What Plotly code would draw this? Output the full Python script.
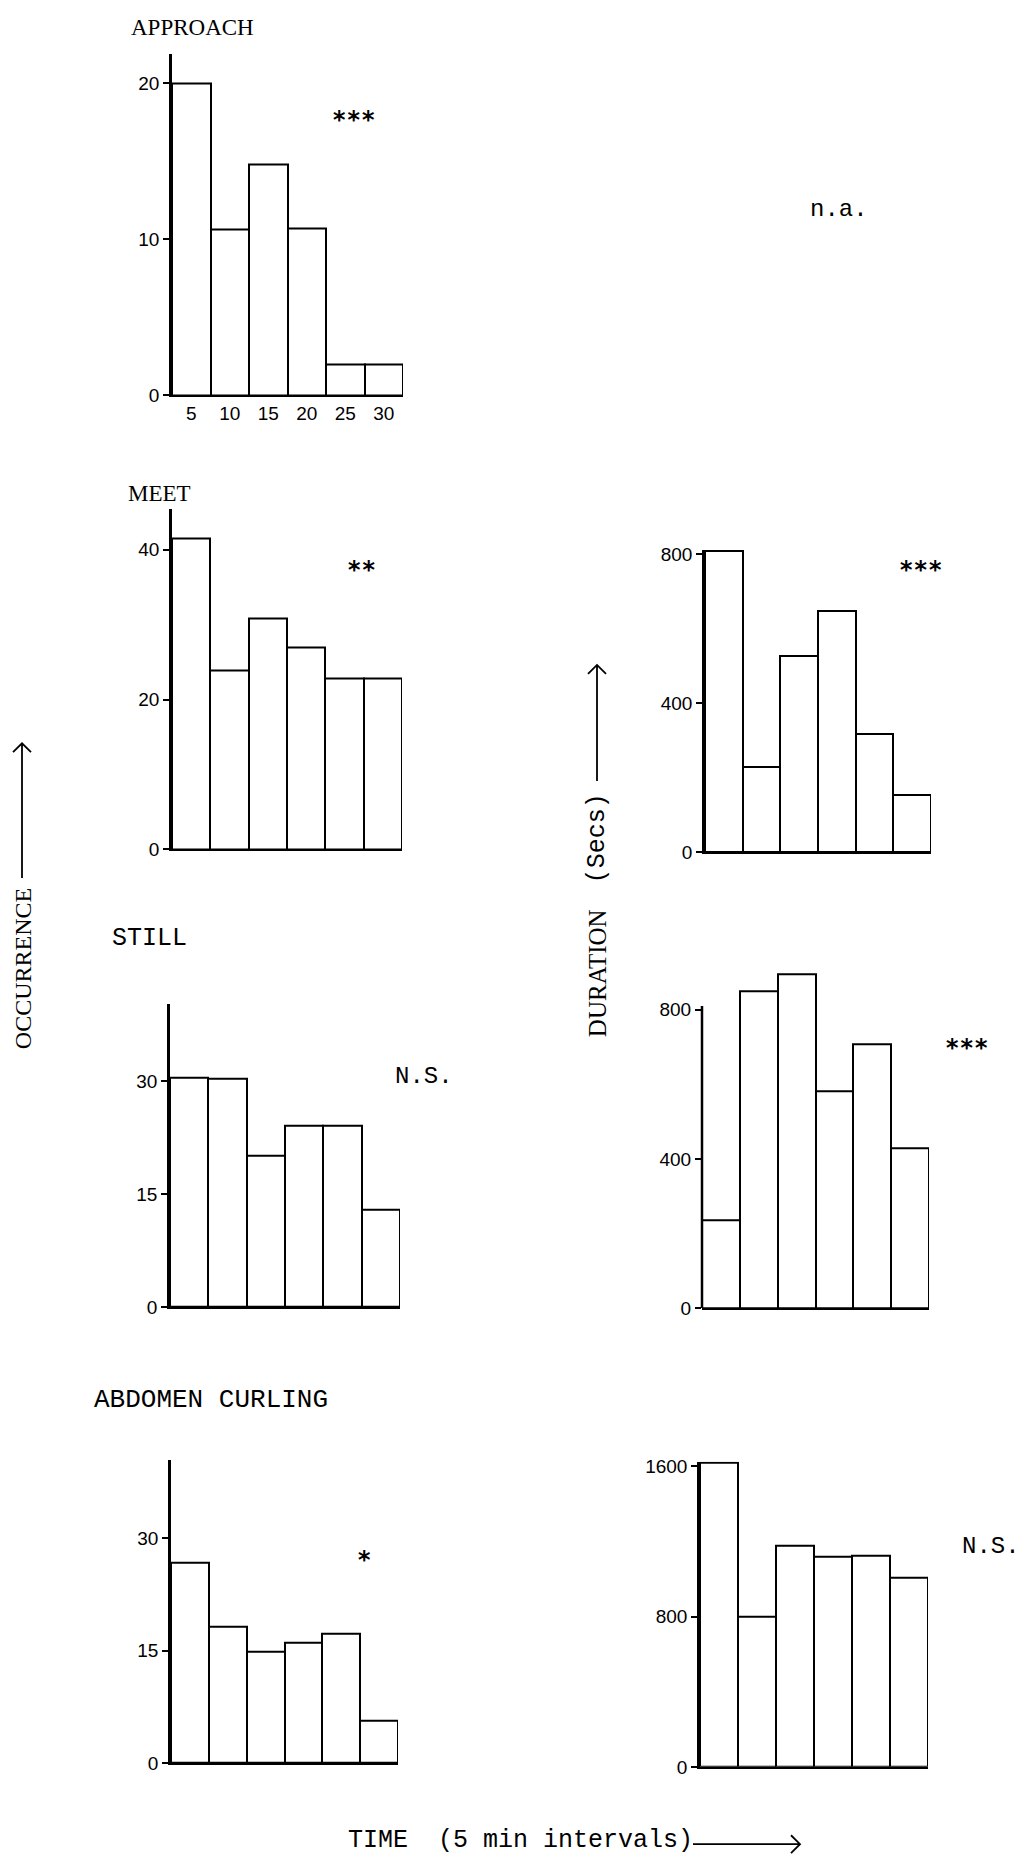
import plotly.graph_objects as go

# ---------------- data ----------------
intervals = [5, 10, 15, 20, 25, 30]
interval_labels = ["5", "10", "15", "20", "25", "30"]

approach_occ = [20, 10.6, 14.8, 10.7, 2, 2]
meet_occ = [41.5, 23.9, 30.9, 27, 22.8, 22.8]
meet_dur = [810, 229, 527, 647, 317, 153]
still_occ = [30.5, 30.3, 20.1, 24.1, 24.1, 12.9]
still_dur = [237, 851, 895, 583, 708, 430]
abd_occ = [26.7, 18.2, 14.9, 16, 17.2, 5.7]
abd_dur = [1620, 800, 1175, 1120, 1125, 1005]

W, H = 1025, 1873
MONO = "Liberation Mono, Courier New, monospace"
STAR = "DejaVu Sans Mono, monospace"
SERIF = "Liberation Serif, Times New Roman, serif"
SANS = "Liberation Sans, Arial, sans-serif"


def px_x(p):
    return p / W


def px_y(p):
    return 1 - p / H


# panel layout: (values, left px, right px, baseline px, top px, y max, tickvals, show x labels)
panels = [
    (approach_occ, 172, 403, 393, 48, 21.9, [0, 10, 20], True),
    (meet_occ, 172, 402, 851, 508, 45.4, [0, 20, 40], False),
    (meet_dur, 705, 931, 854, 549, 812, [0, 400, 800], False),
    (still_occ, 170, 400, 1313, 1007, 40.3, [0, 15, 30], False),
    (still_dur, 702, 929, 1314, 975, 901, [0, 400, 800], False),
    (abd_occ, 171, 398, 1773, 1467, 40.5, [0, 15, 30], False),
    (abd_dur, 700, 928, 1777, 1469, 1624, [0, 800, 1600], False),
]

fig = go.Figure()
layout = dict(
    width=W, height=H, margin=dict(l=0, r=0, t=0, b=0),
    paper_bgcolor="white", plot_bgcolor="white", showlegend=False,
    bargap=0,
)

for i, (vals, L, R, B, T, ymax, tv, showx) in enumerate(panels, start=1):
    sx = "" if i == 1 else str(i)
    fig.add_trace(go.Bar(
        x=intervals, y=vals, width=5,
        marker=dict(color="white", line=dict(color="black", width=2)),
        xaxis="x" + sx, yaxis="y" + sx, hoverinfo="skip",
    ))
    layout["xaxis" + sx] = dict(
        domain=[px_x(L), px_x(R)], range=[2.5, 32.5], anchor="y" + sx,
        showline=True, linecolor="black", linewidth=2,
        showgrid=False, zeroline=False, ticks="",
        tickvals=intervals, ticktext=interval_labels,
        showticklabels=showx, tickfont=dict(family=SANS, size=19, color="black"),
        fixedrange=True,
    )
    layout["yaxis" + sx] = dict(
        domain=[px_y(B), px_y(T)], range=[0, ymax], anchor="x" + sx,
        showline=(i != 5), linecolor="black", linewidth=2.5,
        showgrid=False, zeroline=False,
        ticks="outside", ticklen=6, tickwidth=2, tickcolor="black",
        tickvals=tv, tickfont=dict(family=SANS, size=19, color="black"),
        fixedrange=True,
    )

fig.update_layout(**layout)

# y-axis line of STILL duration panel stops below the tallest bar
fig.add_shape(type="line", xref="x5 domain", yref="y5", x0=0, x1=0, y0=0, y1=810,
              line=dict(color="black", width=2.5))


def txt(text, x, y, size, family=MONO, xanchor="left", angle=0):
    fig.add_annotation(text=text, x=px_x(x), y=px_y(y), xref="paper", yref="paper",
                       showarrow=False, xanchor=xanchor, yanchor="middle",
                       textangle=angle, font=dict(family=family, size=size, color="black"))


# titles
txt("APPROACH", 129, 22, 23, SERIF)
txt("MEET", 126, 492, 23, SERIF)
txt("STILL", 110, 941, 25)
txt("ABDOMEN\u00a0CURLING", 92, 1407, 26)

# significance markers
txt("<b>***</b>", 330, 115, 24, STAR)
txt("n.a.", 808, 205, 24)
txt("<b>**</b>", 345, 569, 24, STAR)
txt("<b>***</b>", 897, 569, 24, STAR)
txt("N.S.", 393, 1080, 24)
txt("<b>***</b>", 943, 1052, 24, STAR)
txt("<b>*</b>", 364, 1568, 24, STAR, xanchor="center")
txt("N.S.", 960, 1555, 24)

# side labels
txt("OCCURRENCE", 23, 972, 24, SERIF, xanchor="center", angle=-90)
txt("DURATION", 597, 976, 25, SERIF, xanchor="center", angle=-90)
txt("(Secs)", 597, 840, 25, xanchor="center", angle=-90)
txt("TIME\u00a0\u00a0(5\u00a0min\u00a0intervals)", 346, 1851, 25)


def arrow_path(x0, y0, x1, y1, head, vertical):
    pts = f"M {px_x(x0)},{px_y(y0)} L {px_x(x1)},{px_y(y1)}"
    if vertical:  # pointing up
        pts += (f" M {px_x(x1 - head)},{px_y(y1 + head)} L {px_x(x1)},{px_y(y1)}"
                f" L {px_x(x1 + head)},{px_y(y1 + head)}")
    else:  # pointing right
        pts += (f" M {px_x(x1 - head)},{px_y(y1 - head)} L {px_x(x1)},{px_y(y1)}"
                f" L {px_x(x1 - head)},{px_y(y1 + head)}")
    fig.add_shape(type="path", xref="paper", yref="paper", path=pts,
                  line=dict(color="black", width=1.8))


arrow_path(22, 880, 22, 744, 9, True)
arrow_path(597, 782, 597, 665, 9, True)
arrow_path(693, 1855, 800, 1855, 9, False)

post = (
    "document.documentElement.style.margin='0';"
    "document.documentElement.style.overflow='hidden';"
    "document.documentElement.style.height='1873px';"
    "document.body.style.margin='0';"
    "document.body.style.overflow='hidden';"
    "document.body.style.height='1873px';"
    "var d=document.getElementById('{plot_id}');"
    "d.style.position='absolute';d.style.top='0px';d.style.left='0px';"
)

fig.write_html("out.html", config={"displayModeBar": False}, post_script=post)
